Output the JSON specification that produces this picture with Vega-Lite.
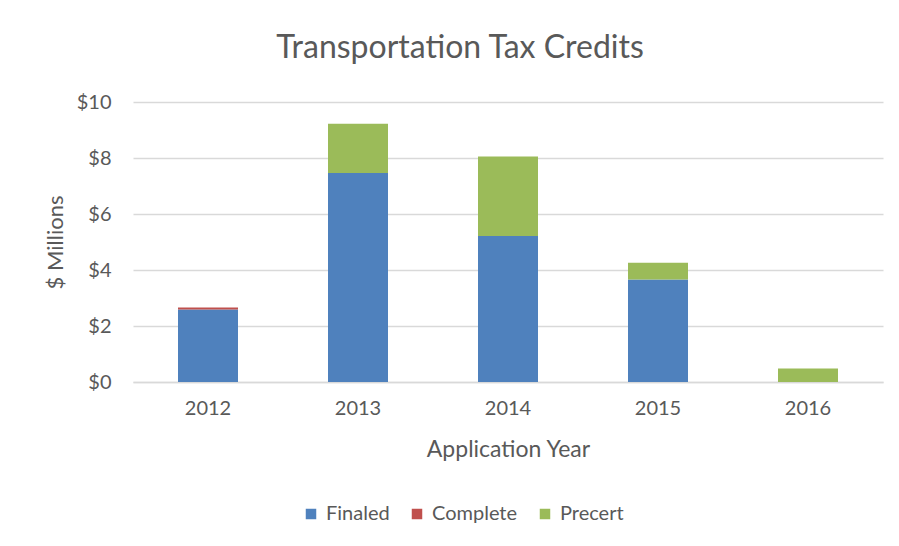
{
  "$schema": "https://vega.github.io/schema/vega-lite/v6.json",
  "width": 750,
  "height": 280,
  "autosize": "none",
  "padding": {"left": 133, "top": 102, "right": 16, "bottom": 164},
  "background": "white",
  "title": {
    "text": "Transportation Tax Credits",
    "font": "Lato",
    "fontSize": 32,
    "fontWeight": "normal",
    "color": "#595959",
    "anchor": "middle",
    "dx": -48,
    "offset": 27
  },
  "data": {
    "values": [
      {"year": "2012", "type": "Finaled", "value": 2.59},
      {"year": "2012", "type": "Complete", "value": 0.07},
      {"year": "2012", "type": "Precert", "value": 0},
      {"year": "2013", "type": "Finaled", "value": 7.46},
      {"year": "2013", "type": "Complete", "value": 0},
      {"year": "2013", "type": "Precert", "value": 1.76},
      {"year": "2014", "type": "Finaled", "value": 5.21},
      {"year": "2014", "type": "Complete", "value": 0},
      {"year": "2014", "type": "Precert", "value": 2.84},
      {"year": "2015", "type": "Finaled", "value": 3.66},
      {"year": "2015", "type": "Complete", "value": 0},
      {"year": "2015", "type": "Precert", "value": 0.6},
      {"year": "2016", "type": "Finaled", "value": 0},
      {"year": "2016", "type": "Complete", "value": 0},
      {"year": "2016", "type": "Precert", "value": 0.48}
    ]
  },
  "transform": [
    {"calculate": "indexof(['Finaled','Complete','Precert'], datum.type)", "as": "stackOrder"}
  ],
  "mark": {"type": "bar"},
  "encoding": {
    "x": {
      "field": "year",
      "type": "nominal",
      "scale": {"paddingInner": 0.6, "paddingOuter": 0.3},
      "axis": {
        "title": "Application Year",
        "labelAngle": 0,
        "labelFont": "Lato",
        "labelFontSize": 20,
        "labelColor": "#595959",
        "labelPadding": 16,
        "titleFont": "Lato",
        "titleFontSize": 23,
        "titleFontWeight": "normal",
        "titleColor": "#595959",
        "titlePadding": 20,
        "ticks": false,
        "domainColor": "#d9d9d9",
        "domainWidth": 1.5
      }
    },
    "y": {
      "field": "value",
      "type": "quantitative",
      "stack": "zero",
      "scale": {"domain": [0, 10]},
      "axis": {
        "title": "$ Millions",
        "values": [0, 2, 4, 6, 8, 10],
        "labelExpr": "'$' + datum.value",
        "labelFont": "Lato",
        "labelFontSize": 20,
        "labelColor": "#595959",
        "labelPadding": 22,
        "titleFont": "Lato",
        "titleFontSize": 22,
        "titleFontWeight": "normal",
        "titleColor": "#595959",
        "titleX": -66,
        "titleY": 140,
        "ticks": false,
        "domain": false,
        "gridColor": "#d9d9d9",
        "gridWidth": 1.5
      }
    },
    "color": {
      "field": "type",
      "type": "nominal",
      "sort": ["Finaled", "Complete", "Precert"],
      "scale": {
        "domain": ["Finaled", "Complete", "Precert"],
        "range": ["#4f81bd", "#c0504d", "#9bbb59"]
      },
      "legend": {
        "title": null,
        "orient": "none",
        "direction": "horizontal",
        "legendX": 168,
        "legendY": 402,
        "symbolType": "square",
        "symbolSize": 110,
        "symbolStrokeWidth": 0,
        "labelFont": "Lato",
        "labelFontSize": 20,
        "labelColor": "#595959",
        "labelOffset": 5,
        "columnPadding": 17
      }
    },
    "order": {"field": "stackOrder", "sort": "ascending"}
  },
  "config": {"view": {"stroke": null}}
}
